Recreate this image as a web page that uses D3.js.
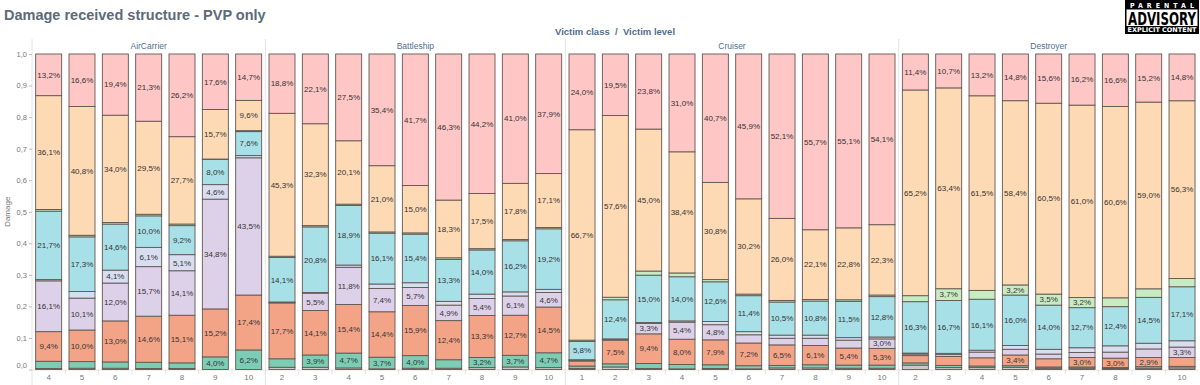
<!DOCTYPE html>
<html>
<head>
<meta charset="utf-8">
<script src="https://cdn.jsdelivr.net/npm/d3@7"></script>
<style>
  body { margin: 0; background: #fff; font-family: "Liberation Sans", Arial, sans-serif; }
</style>
</head>
<body>
<div id="chart"></div>
<script>
// victim classes and the levels shown for each
const classes = ['AirCarrier', 'Battleship', 'Cruiser', 'Destroyer'];
const levelsAirCarrier = [4, 5, 6, 7, 8, 9, 10];
const levelsBattleship = [2, 3, 4, 5, 6, 7, 8, 9, 10];
const levelsCruiser = [1, 2, 3, 4, 5, 6, 7, 8, 9, 10];
const levelsDestroyer = [2, 3, 4, 5, 6, 7, 8, 9, 10];

// damage shares in %, bottom to top, one value per bar (AC 4-10, BB 2-10, CR 1-10, DD 2-10)
const seriesKeys = ['grey', 'teal', 'salmon', 'lavender', 'pale', 'cyan', 'green', 'peach', 'pink'];
const grey = [0.3, 0.4, 0.4, 0.3, 0.3, 0.0, 0.0,
  0.7, 0.7, 0.5, 0.2, 0.4, 0.4, 0.6, 0.8, 0.6,
  0.3, 0.8, 0.3, 0.2, 0.3, 0.2, 0.5, 0.5, 0.4, 0.4,
  1.4, 0.6, 0.6, 0.7, 0.4, 0.4, 0.3, 0.4, 0.5];
const teal = [2.3, 2.1, 2.0, 2.0, 1.8, 4.0, 6.2,
  2.7, 3.9, 4.7, 3.7, 4.0, 2.7, 3.2, 3.7, 4.7,
  0.8, 1.0, 1.6, 1.4, 1.2, 1.0, 0.8, 1.0, 1.0, 1.0,
  0.7, 0.7, 0.5, 0.5, 0.4, 0.4, 0.3, 0.5, 0.5];
const salmon = [9.4, 10.0, 13.0, 14.6, 15.1, 15.2, 17.4,
  17.7, 14.1, 15.4, 14.4, 15.9, 12.4, 13.3, 12.7, 14.5,
  1.6, 7.5, 9.4, 8.0, 7.9, 7.2, 6.5, 6.1, 5.4, 5.3,
  2.3, 2.8, 2.6, 3.4, 2.6, 3.0, 3.0, 2.9, 2.8];
const lavender = [16.1, 10.1, 12.0, 15.7, 14.1, 34.8, 43.5,
  0.15, 5.5, 11.8, 7.4, 5.7, 4.9, 5.4, 6.1, 4.6,
  0.2, 0.2, 3.3, 5.4, 4.8, 2.6, 2.1, 2.3, 2.5, 3.0,
  0.5, 0.6, 1.8, 1.8, 1.5, 1.6, 1.9, 2.7, 3.3];
const pale = [0.4, 2.1, 4.1, 6.1, 5.1, 4.6, 0.7,
  0.15, 0.2, 0.7, 1.4, 1.5, 1.2, 1.4, 1.3, 1.0,
  0.2, 0.2, 0.3, 0.4, 1.0, 1.0, 1.0, 1.0, 0.8, 0.6,
  0.3, 0.4, 0.6, 1.2, 1.5, 1.5, 2.0, 1.8, 2.0];
const cyan = [21.7, 17.3, 14.6, 10.0, 9.2, 8.0, 7.6,
  14.1, 20.8, 18.9, 16.1, 15.4, 13.3, 14.0, 16.2, 19.2,
  5.8, 12.4, 15.0, 14.0, 12.6, 11.4, 10.5, 10.8, 11.5, 12.8,
  16.3, 16.7, 16.1, 16.0, 14.0, 12.7, 12.4, 14.5, 17.1];
const green = [0.5, 0.5, 0.5, 0.5, 0.5, 0.1, 0.3,
  0.4, 0.4, 0.4, 0.4, 0.4, 0.5, 0.4, 0.4, 0.4,
  0.4, 0.8, 1.3, 1.2, 0.7, 0.5, 0.5, 0.5, 0.5, 0.5,
  1.9, 3.7, 2.8, 3.2, 3.5, 3.2, 2.8, 2.7, 2.6];
const peach = [36.1, 40.8, 34.0, 29.5, 27.7, 15.7, 9.6,
  45.3, 32.3, 20.1, 21.0, 15.0, 18.3, 17.5, 17.8, 17.1,
  66.7, 57.6, 45.0, 38.4, 30.8, 30.2, 26.0, 22.1, 22.8, 22.3,
  65.2, 63.4, 61.5, 58.4, 60.5, 61.0, 60.6, 59.0, 56.3];
const pink = [13.2, 16.6, 19.4, 21.3, 26.2, 17.6, 14.7,
  18.8, 22.1, 27.5, 35.4, 41.7, 46.3, 44.2, 41.0, 37.9,
  24.0, 19.5, 23.8, 31.0, 40.7, 45.9, 52.1, 55.7, 55.1, 54.1,
  11.4, 10.7, 13.2, 14.8, 15.6, 16.2, 16.6, 15.2, 14.8];
const yTicks = [0, 0.1, 0.2, 0.3, 0.4, 0.5, 0.6, 0.7, 0.8, 0.9, 1.0];

const levelLists = [levelsAirCarrier, levelsBattleship, levelsCruiser, levelsDestroyer];
const seriesValues = { grey, teal, salmon, lavender, pale, cyan, green, peach, pink };

const rows = [];
classes.forEach((c, ci) => levelLists[ci].forEach(l => {
  const i = rows.length;
  const row = { cls: c, lvl: l, id: c + '|' + l };
  seriesKeys.forEach(k => { row[k] = seriesValues[k][i]; });
  rows.push(row);
}));

const W = 1200, H = 385;
const plot = { left: 32, right: 1198.7, top: 54, bottom: 369.5 };

const svg = d3.select('#chart').append('svg')
  .attr('width', W).attr('height', H);

const x = d3.scaleBand().domain(rows.map(d => d.id))
  .range([plot.left, plot.right]).paddingInner(0.22).paddingOuter(0.11);
const y = d3.scaleLinear().domain([0, 1]).range([plot.bottom, plot.top]);
const color = d3.scaleOrdinal().domain(seriesKeys)
  .range(['#c9c9c9', '#7dcdb4', '#f3a487', '#ddd1e9', '#d8ddf0', '#a8e0e8', '#c8ebc2', '#fdd9b4', '#ffc6c6']);

const fmt = v => d3.format('.1f')(v).replace('.', ',');
const half = (x.step() - x.bandwidth()) / 2;

// title & headers
svg.append('text').attr('x', 4).attr('y', 20)
  .style('font-size', '14.5px').style('font-weight', 'bold').style('fill', '#5d6a78')
  .text('Damage received structure - PVP only');
svg.append('text').attr('x', 615).attr('y', 35).attr('text-anchor', 'middle')
  .style('font-size', '9.5px').style('font-weight', 'bold').style('fill', '#4f6f8f')
  .attr('xml:space', 'preserve')
  .text('Victim class  /  Victim level');

// panel separators and panel names
classes.forEach(c => {
  const ids = rows.filter(r => r.cls === c).map(r => r.id);
  const x0 = x(ids[0]) - half;
  const x1 = x(ids[ids.length - 1]) + x.bandwidth() + half;
  svg.append('line').attr('x1', x0).attr('x2', x0).attr('y1', 39).attr('y2', H)
    .style('stroke', '#e4e4e4');
  svg.append('text').attr('x', (x0 + x1) / 2).attr('y', 49).attr('text-anchor', 'middle')
    .style('font-size', '8.5px').style('fill', '#4f6f8f').text(c);
});

// baseline and slot ticks
svg.append('line').attr('x1', plot.left).attr('x2', plot.right)
  .attr('y1', plot.bottom + 0.5).attr('y2', plot.bottom + 0.5).style('stroke', '#e4e4e4');
svg.append('g').selectAll('line').data(rows.slice(1)).enter().append('line')
  .attr('x1', d => x(d.id) - half).attr('x2', d => x(d.id) - half)
  .attr('y1', plot.bottom).attr('y2', plot.bottom + 5).style('stroke', '#e4e4e4');

// y axis
const yAxis = svg.append('g').attr('transform', `translate(${plot.left},0)`)
  .call(d3.axisLeft(y).tickValues(yTicks).tickFormat(fmt).tickSize(3).tickPadding(2));
yAxis.select('.domain').remove();
yAxis.selectAll('line').style('stroke', '#bbb');
yAxis.selectAll('text').style('fill', '#777').style('font-size', '7.5px')
  .style('font-family', '"Liberation Sans", Arial, sans-serif')
  .attr('dy', d => d === 0 ? '-0.3em' : '0.32em');
svg.append('text').attr('transform', `translate(10,${(plot.top + plot.bottom) / 2}) rotate(-90)`)
  .attr('text-anchor', 'middle').style('font-size', '8px').style('fill', '#777').text('Damage');

// x axis labels
svg.append('g').selectAll('text').data(rows).enter().append('text')
  .attr('x', d => x(d.id) + x.bandwidth() / 2).attr('y', 380).attr('text-anchor', 'middle')
  .style('font-size', '8px').style('fill', '#777').text(d => d.lvl);

// stacked bars
const stacked = d3.stack().keys(seriesKeys).offset(d3.stackOffsetExpand)(rows);

const layers = svg.append('g').selectAll('g').data(stacked).enter().append('g')
  .attr('fill', d => color(d.key));
layers.selectAll('rect').data(d => d).enter().append('rect')
  .attr('x', d => x(d.data.id)).attr('width', x.bandwidth())
  .attr('y', d => y(d[1])).attr('height', d => Math.max(0, y(d[0]) - y(d[1])))
  .style('stroke', '#625752').style('stroke-width', 0.9);

// value labels
stacked.forEach(layer => {
  svg.append('g').selectAll('text')
    .data(layer.filter(d => d.data[layer.key] >= 2.85)).enter().append('text')
    .attr('x', d => x(d.data.id) + x.bandwidth() / 2)
    .attr('y', d => y((d[0] + d[1]) / 2)).attr('dy', '0.35em').attr('text-anchor', 'middle')
    .style('font-size', '8px').style('fill', '#333')
    .text(d => fmt(d.data[layer.key]) + '%');
});

// parental advisory badge
const badgeFont = '"DejaVu Sans Condensed", "DejaVu Sans", sans-serif';
const pa = svg.append('g').attr('transform', 'translate(1125,0)');
pa.append('rect').attr('width', 74).attr('height', 34).attr('fill', '#000');
pa.append('rect').attr('x', 1.5).attr('y', 9.5).attr('width', 71).attr('height', 16.5).attr('fill', '#fff');
pa.append('text').attr('x', 37).attr('y', 7.8).attr('text-anchor', 'middle')
  .attr('textLength', 64).attr('lengthAdjust', 'spacing')
  .style('font-size', '7px').style('font-weight', 'bold').style('fill', '#fff')
  .style('font-family', badgeFont).text('PARENTAL');
pa.append('text').attr('transform', 'translate(37,25) scale(1,1.55)').attr('text-anchor', 'middle')
  .attr('textLength', 68).attr('lengthAdjust', 'spacingAndGlyphs')
  .style('font-size', '11px').style('font-weight', 'bold').style('fill', '#000')
  .style('font-family', badgeFont).text('ADVISORY');
pa.append('text').attr('x', 37).attr('y', 32.3).attr('text-anchor', 'middle')
  .attr('textLength', 69).attr('lengthAdjust', 'spacingAndGlyphs')
  .style('font-size', '6.5px').style('font-weight', 'bold').style('fill', '#fff')
  .style('font-family', badgeFont).text('EXPLICIT CONTENT');
</script>
</body>
</html>
